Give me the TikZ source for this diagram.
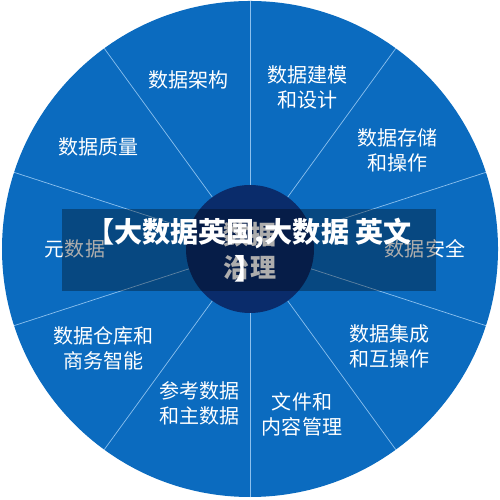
\documentclass[tikz,border=0pt]{standalone}
\usepackage{fontspec}
\newfontfamily\cjk{Noto Sans CJK SC}
\definecolor{wheelblue}{HTML}{0B6BBF}
\definecolor{hubnavy}{HTML}{0A2C6B}
\definecolor{spokeblue}{HTML}{8CC0EE}
\begin{document}
\begin{tikzpicture}[
    area/.style={text=white, align=center, font=\cjk\fontsize{11.4}{14.2}\selectfont},
    banner/.style={fill=black, fill opacity=0.32, text opacity=1, text=white,
      minimum width=7.48cm, minimum height=1.64cm, align=center,
      font=\cjk\bfseries\fontsize{16}{21}\selectfont}
  ]
  \useasboundingbox (0,0) rectangle (10,10);
  \coordinate (hub) at (5,5.02);
  \fill[wheelblue] (hub) circle (4.96);
  \begin{scope}[shift={(hub)}]
    \foreach \a in {18,54,...,342}
      \draw[spokeblue, line width=0.4pt] (0,0) -- (\a:4.96);
    \fill[hubnavy] (0,0) circle (1.28);
    \draw
      (0:3.50) node[area] (security){数据安全}
      (33.7:3.54) node[area] (storage){数据存储\\和操作}
      (70.5:3.42) node[area] (modeling){数据建模\\和设计}
      (110:3.60) node[area] (architecture){数据架构}
      (146:3.66) node[area] (quality){数据质量}
      (180:3.50) node[area] (metadata){元数据}
      (214:3.54) node[area] (warehouse){数据仓库和\\商务智能}
      (252:3.24) node[area] (reference){参考数据\\和主数据}
      (287.5:3.46) node[area] (document){文件和\\内容管理}
      (325:3.40) node[area] (integration){数据集成\\和互操作};
    \node[text=white, align=center, font=\cjk\bfseries\fontsize{14.8}{18.8}\selectfont]
      (governance) at (0,-0.05) {数据\\治理};
  \end{scope}
  \node[banner] (title) at (4.98,5.0) {【大数据英国,大数据 英文\\】};
\end{tikzpicture}
\end{document}
